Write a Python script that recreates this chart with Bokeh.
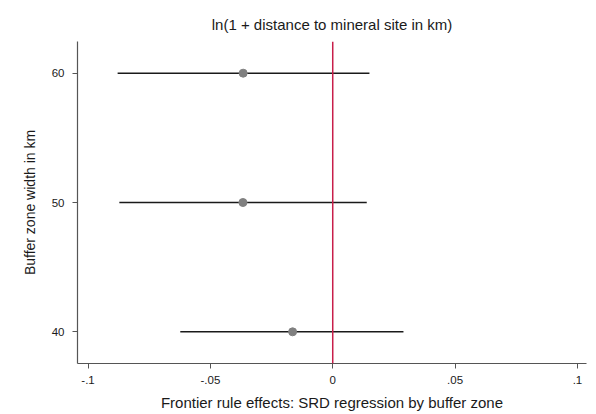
from bokeh.plotting import figure
from bokeh.models import FixedTicker, Range1d, Span
from bokeh.embed import file_html
from bokeh.resources import INLINE

# Data
buffer_km = [40, 50, 60]
estimate = [-0.0164, -0.0367, -0.0366]
ci_low = [-0.0623, -0.0872, -0.0879]
ci_high = [0.0289, 0.0139, 0.0150]
x_ticks = [-0.1, -0.05, 0, 0.05, 0.1]
x_tick_labels = ["-.1", "-.05", "0", ".05", ".1"]
y_ticks = [40, 50, 60]
title_text = "ln(1 + distance to mineral site in km)"

FONT = "Liberation Sans"
TXT = "#1a1a1a"

p = figure(width=596, height=414, output_backend="svg", toolbar_location=None,
           x_range=Range1d(-0.1043, 0.1037), y_range=Range1d(37.55, 62.45),
           title=title_text,
           min_border_left=77, min_border_right=10, min_border_top=41, min_border_bottom=51)

p.title.align = "center"
p.title.text_font = FONT
p.title.text_font_size = "15px"
p.title.text_font_style = "normal"
p.title.text_color = TXT
p.title.standoff = 17

p.xgrid.visible = False
p.ygrid.visible = False
p.outline_line_color = None
p.background_fill_color = "white"
p.border_fill_color = "white"

zero = Span(location=0, dimension="height", line_color="#c81e4a", line_width=1.5)
p.add_layout(zero)

p.segment(x0=ci_low, y0=buffer_km, x1=ci_high, y1=buffer_km, line_color="#1a1a1a", line_width=1.6)
p.scatter(x=estimate, y=buffer_km, size=8, fill_color="#808080", line_color="#808080")

for ax in (p.xaxis[0], p.yaxis[0]):
    ax.axis_line_color = "#555555"
    ax.axis_line_width = 1.2
    ax.major_tick_line_color = "#555555"
    ax.major_tick_out = 5
    ax.major_tick_in = 0
    ax.minor_tick_line_color = None
    ax.major_label_text_font = FONT
    ax.major_label_text_font_size = "11.5px"
    ax.major_label_text_color = TXT
    ax.axis_label_text_font = FONT
    ax.axis_label_text_font_size = "15px"
    ax.axis_label_text_font_style = "normal"
    ax.axis_label_text_color = TXT

p.xaxis.ticker = FixedTicker(ticks=x_ticks)
p.xaxis.major_label_overrides = {t: l for t, l in zip(x_ticks, x_tick_labels)}
p.xaxis.axis_label = "Frontier rule effects: SRD regression by buffer zone"
p.xaxis.major_label_standoff = 7
p.xaxis.axis_label_standoff = 7

p.yaxis.ticker = FixedTicker(ticks=y_ticks)
p.yaxis.major_label_orientation = "horizontal"
p.yaxis.axis_label = "Buffer zone width in km"
p.yaxis.axis_label_text_font_size = "14px"
p.yaxis.major_label_standoff = 8
p.yaxis.axis_label_standoff = 11

open("out.html", "w").write(file_html(p, INLINE))
